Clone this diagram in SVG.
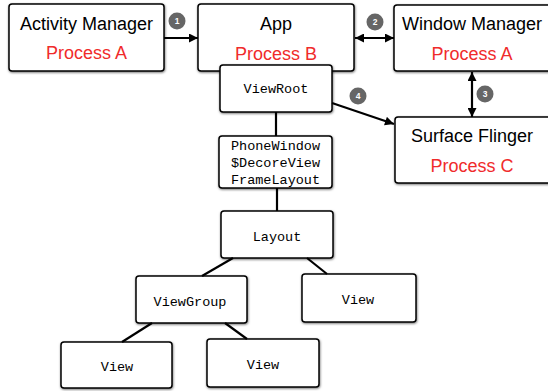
<svg xmlns="http://www.w3.org/2000/svg" width="548" height="391" viewBox="0 0 548 391">
<defs>
<filter id="sh" x="-10%" y="-10%" width="120%" height="130%">
<feDropShadow dx="0.5" dy="1" stdDeviation="1.3" flood-color="#000" flood-opacity="0.55"/>
</filter>
<marker id="ah" viewBox="0 0 10 10" refX="10" refY="5" markerWidth="10" markerHeight="9" markerUnits="userSpaceOnUse" orient="auto-start-reverse">
<path d="M0,0 L10,5 L0,10 z" fill="#000"/>
</marker>
</defs>
<style>
.box{fill:#fff;stroke:#000;stroke-width:1.5;filter:url(#sh)}
.t{font-family:"Liberation Sans",Arial,sans-serif;font-size:18px;text-anchor:middle;fill:#000}
.r{font-family:"Liberation Sans",Arial,sans-serif;font-size:18px;text-anchor:middle;fill:#f02b2b}
.m{font-family:"Liberation Mono","Courier New",monospace;font-size:13.5px;text-anchor:middle;fill:#000}
.ln{stroke:#000;stroke-width:2.2;fill:none}
.ar{stroke:#000;stroke-width:2.2;fill:none;marker-end:url(#ah)}
.ar2{stroke:#000;stroke-width:2.2;fill:none;marker-end:url(#ah);marker-start:url(#ah)}
.bd{fill:#666}
.bt{font-family:"Liberation Sans",Arial,sans-serif;font-size:8.5px;font-weight:bold;text-anchor:middle;fill:#fff}
</style>
<g id="activity-manager">
<rect class="box" x="9" y="4" width="155" height="67" rx="3"/>
<text class="t" x="86.5" y="30">Activity Manager</text>
<text class="r" x="86.5" y="59">Process A</text>
</g>
<g id="app">
<rect class="box" x="198" y="4" width="156" height="67" rx="3"/>
<text class="t" x="276" y="30">App</text>
<text class="r" x="276" y="60">Process B</text>
</g>
<g id="window-manager">
<rect class="box" x="394" y="5" width="160" height="66" rx="3"/>
<text class="t" x="472" y="30">Window Manager</text>
<text class="r" x="472" y="60">Process A</text>
</g>
<g id="surface-flinger">
<rect class="box" x="395" y="117" width="160" height="66" rx="3"/>
<text class="t" x="472" y="142">Surface Flinger</text>
<text class="r" x="472" y="172">Process C</text>
</g>
<g id="viewroot">
<rect class="box" x="220" y="65" width="112" height="47" rx="3"/>
<text class="m" x="276" y="93">ViewRoot</text>
</g>
<g id="phonewindow">
<rect class="box" x="219" y="136" width="113" height="52" rx="3"/>
<text class="m" x="275.5" y="150">PhoneWindow</text>
<text class="m" x="275.5" y="167">$DecoreView</text>
<text class="m" x="275.5" y="184">FrameLayout</text>
</g>
<g id="layout">
<rect class="box" x="221" y="211" width="112" height="47" rx="3"/>
<text class="m" x="277" y="241">Layout</text>
</g>
<g id="viewgroup">
<rect class="box" x="136" y="276" width="111" height="47" rx="3"/>
<text class="m" x="190" y="306">ViewGroup</text>
</g>
<g id="view-right">
<rect class="box" x="302" y="274" width="114" height="48" rx="3"/>
<text class="m" x="358" y="304">View</text>
</g>
<g id="view-bottom-left">
<rect class="box" x="61" y="342" width="111" height="46" rx="3"/>
<text class="m" x="117" y="371">View</text>
</g>
<g id="view-bottom-middle">
<rect class="box" x="207" y="339" width="112" height="48" rx="3"/>
<text class="m" x="263" y="369">View</text>
</g>
<g id="connectors">
<line class="ar" x1="164" y1="38" x2="198" y2="38"/>
<line class="ar2" x1="355" y1="38" x2="394" y2="38"/>
<line class="ar2" x1="472" y1="72" x2="472" y2="117"/>
<line class="ar" x1="332" y1="103" x2="394" y2="124"/>
<line class="ln" x1="276" y1="112" x2="276" y2="136"/>
<line class="ln" x1="277" y1="188" x2="277" y2="211"/>
<line class="ln" x1="233" y1="258" x2="202" y2="276"/>
<line class="ln" x1="307" y1="258" x2="327" y2="274"/>
<line class="ln" x1="152" y1="323" x2="122" y2="342"/>
<line class="ln" x1="225" y1="323" x2="247" y2="339"/>
<circle class="bd" cx="177" cy="21" r="8.5"/>
<text class="bt" x="177" y="24">1</text>
<circle class="bd" cx="375" cy="22" r="8.5"/>
<text class="bt" x="375" y="25">2</text>
<circle class="bd" cx="485" cy="94" r="8.5"/>
<text class="bt" x="485" y="97">3</text>
<circle class="bd" cx="358" cy="96" r="8.5"/>
<text class="bt" x="358" y="99">4</text>
</g>
</svg>
